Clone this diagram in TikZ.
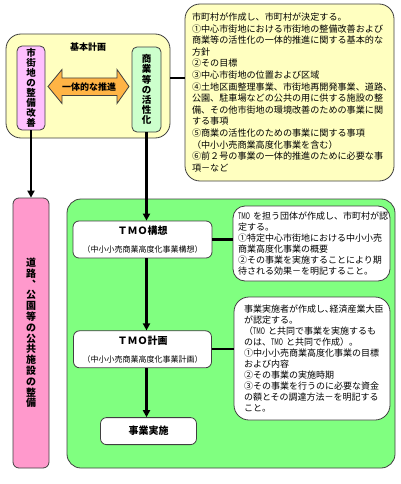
\documentclass[tikz,border=0pt]{standalone}
\usepackage{fontspec}
\setmainfont{Noto Sans CJK JP}
\usetikzlibrary{arrows.meta,positioning}

\definecolor{planyellow}{HTML}{FFFFC0}
\definecolor{seibipink}{HTML}{FFC0FF}
\definecolor{shokagreen}{HTML}{CCFFCC}
\definecolor{koukyopink}{HTML}{FF99CC}
\definecolor{tmogreen}{HTML}{80FF80}
\definecolor{suishinorange}{HTML}{FFB445}
\definecolor{edgegray}{HTML}{404040}

\newcommand{\tmo}{\scalebox{0.62}[1]{TMO}}

\begin{document}
\begin{tikzpicture}[x=1pt,y=-1pt,
    box/.style={draw=edgegray, line width=0.8pt, rounded corners=#1},
    box/.default=5pt,
    vtext/.style={align=center, inner sep=0pt, font=\bfseries\fontsize{9.5}{10.1}\selectfont},
    info/.style={box=15pt, fill=white, align=left, inner ysep=0pt,
        font=\fontsize{9}{11.1}\selectfont},
    tmobox/.style={box=6pt, fill=white, align=center, inner sep=0pt,
        font=\bfseries\fontsize{10}{18}\selectfont},
    conn/.style={line width=2.2pt},
    arr/.style={conn, -{Triangle[length=7pt,width=7pt]}}]
    \useasboundingbox[fill=white] (0,0) rectangle (400,484);

    % basic plan
    \node[box=15pt, fill=planyellow, minimum width=164pt, minimum height=104pt] (kihon) at (88,86) {};
    \node[font=\bfseries\fontsize{9}{10}\selectfont] (kihontitle) at (88,47) {基本計画};
    \node[box, fill=seibipink, vtext, minimum width=28pt, minimum height=84pt] (seibi) at (31,88)
        {市\\街\\地\\の\\整\\備\\改\\善};
    \node[box, fill=shokagreen, vtext, minimum width=29pt, minimum height=85pt] (shoka) at (146.5,89.5)
        {商\\業\\等\\の\\活\\性\\化};
    \draw[draw=edgegray, line width=0.8pt, fill=suishinorange]
        (48,86.5) -- (62,69.5) -- (62,78) -- (117,78) -- (117,69.5) -- (129,86.5)
        -- (117,103.5) -- (117,95.5) -- (62,95.5) -- (62,103.5) -- cycle;
    \node[font=\bfseries\fontsize{9}{10}\selectfont] (suishin) at (89,87) {一体的な推進};
    \node[info, fill=planyellow, text width=195pt, inner xsep=7pt, minimum height=177pt,
        font=\fontsize{9.1}{11.6}\selectfont] (kihoninfo) at (289.5,92.5)
        {市町村が作成し、市町村が決定する。\\
         ①中心市街地における市街地の整備改善および\\
         商業等の活性化の一体的推進に関する基本的な\\
         方針\\
         ②その目標\\
         ③中心市街地の位置および区域\\
         ④土地区画整理事業、市街地再開発事業、道路、\\
         公園、駐車場などの公共の用に供する施設の整\\
         備、その他市街地の環境改善のための事業に関\\
         する事項\\
         ⑤商業の活性化のための事業に関する事項\\
         （中小小売商業高度化事業を含む）\\
         ⑥前２号の事業の一体的推進のために必要な事\\
         項－など};

    % public facilities
    \node[box=6pt, fill=koukyopink, vtext, font=\bfseries\fontsize{10}{10.8}\selectfont,
        minimum width=36pt, minimum height=270pt] (koukyo) at (31,333)
        {道\\路\\︑\\公\\園\\等\\の\\公\\共\\施\\設\\の\\整\\備};

    % TMO
    \node[box=14pt, fill=tmogreen, minimum width=328pt, minimum height=269pt] (tmopanel) at (231,333.5) {};
    \node[tmobox, minimum width=139pt, minimum height=37pt] (TMOkoso) at (142.5,239.5)
        {ＴＭＯ構想\\{\mdseries\fontsize{8}{9}\selectfont （中小小売商業高度化事業構想）}};
    \node[tmobox, minimum width=138pt, minimum height=37pt, below=72pt of TMOkoso] (TMOkeikaku)
        {ＴＭＯ計画\\{\mdseries\fontsize{8}{9}\selectfont （中小小売商業高度化事業計画）}};
    \node[tmobox, minimum width=96pt, minimum height=27pt, below=49pt of TMOkeikaku, xshift=6pt] (jigyo)
        {事業実施};
    \node[info, box=12pt, text width=147pt, inner xsep=5pt, minimum height=75pt] (kosoinfo) at (311.5,243.5)
        {\tmo~を担う団体が作成し、市町村が認\\
         定する。\\
         ①特定中心市街地における中小小売\\
         商業高度化事業の概要\\
         ②その事業を実施することにより期\\
         待される効果－を明記すること。};
    \node[info, text width=136pt, inner xsep=10pt, minimum height=123pt] (keikakuinfo) at (312,358.5)
        {事業実施者が作成し､経済産業大臣\\
         が認定する。\\
         （\tmo~と共同で事業を実施するも\\
         のは、\tmo~と共同で作成）。\\
         ①中小小売商業高度化事業の目標\\
         および内容\\
         ②その事業の実施時期\\
         ③その事業を行うのに必要な資金\\
         の額とその調達方法－を明記する\\
         こと。};

    % connectors
    \draw[conn] ([yshift=8pt]kihon.east) -- ([yshift=14.5pt]kihoninfo.west);
    \draw[conn] (TMOkoso.east) -- (TMOkoso.east -| kosoinfo.west);
    \draw[conn] (TMOkeikaku.east) -- (TMOkeikaku.east -| keikakuinfo.west);
    \draw[arr] (seibi.south) -- (koukyo.north);
    \draw[arr] (shoka.south) -- (shoka.south |- TMOkoso.north);
    \draw[arr] (TMOkoso.south -| shoka.south) -- (TMOkeikaku.north -| shoka.south);
    \draw[arr] (TMOkeikaku.south -| shoka.south) -- (jigyo.north -| shoka.south);
\end{tikzpicture}
\end{document}
